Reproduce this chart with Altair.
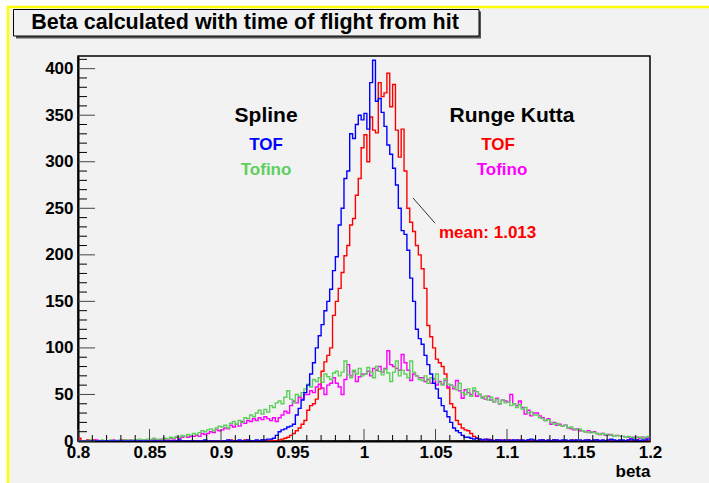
import altair as alt
import pandas as pd

# ---------------- data (histogram bins of width 0.002 from 0.8 to 1.2) ----------------
BIN_START = 0.8
BIN_WIDTH = 0.002

spline_tof = [  # blue
    0,0,0,0,0,0,0,0,0,0,
    0,0,0,0,0,0,0,0,0,0,
    0,0,0,0,0,0,0,0,0,0,
    0,0,0,0,0,1,0,0,0,0,
    0,0,0,0,1,0,0,0,0,0,
    0,0,1,0,0,0,1,0,0,1,
    0,0,1,0,1,1,2,2,3,6,
    10,12,13,15,16,18,28,35,44,52,
    60,72,84,100,113,125,140,150,163,183,
    198,232,250,282,290,330,325,340,350,345,
    352,335,385,409,365,368,353,338,318,308,
    293,275,250,226,222,205,175,150,120,110,
    104,92,82,72,62,56,46,38,32,26,
    20,14,11,9,6,4,4,3,2,3,
    2,1,2,1,1,0,1,1,0,1,
    1,0,1,1,0,1,0,1,2,1,
    0,1,1,0,1,0,1,1,0,1,
    1,0,1,0,1,1,0,1,1,0,
    1,1,0,1,0,1,2,1,0,1,
    1,0,1,2,1,1,0,1,1,2,
]

rk_tof = [  # red
    3,0,0,1,0,1,0,0,0,0,
    0,0,0,0,0,0,1,0,0,0,
    0,0,0,0,0,0,0,0,0,0,
    0,0,0,0,0,0,0,0,0,0,
    0,0,0,0,0,0,0,0,0,0,
    0,0,0,1,0,0,0,0,1,0,
    0,0,0,0,1,0,0,1,0,0,
    1,2,3,4,6,8,11,14,18,22,
    33,38,40,45,56,75,85,92,100,135,
    150,164,181,199,210,232,239,264,282,315,
    329,300,348,334,331,385,370,374,395,359,
    383,334,305,335,290,250,235,225,210,200,
    185,164,124,112,100,88,84,80,72,57,
    40,36,22,18,14,12,11,8,5,3,
    2,1,1,2,1,0,1,0,1,0,
    0,1,0,0,1,0,0,1,0,0,
    0,0,1,0,0,0,1,0,0,0,
    0,0,0,1,0,0,0,0,1,0,
    0,1,0,0,0,0,1,0,0,0,
    0,0,1,0,0,1,0,0,0,0,
]

spline_tofino = [  # green
    0,0,0,0,1,0,0,0,1,0,
    0,1,0,0,1,0,1,1,0,1,
    1,2,1,1,2,1,3,2,2,1,
    3,2,4,3,5,4,6,5,7,6,
    8,7,9,11,10,12,13,11,14,16,
    15,17,14,19,21,18,22,20,25,24,
    28,26,30,33,29,34,31,38,36,41,
    43,40,47,54,45,41,50,48,52,56,
    61,58,66,64,68,63,72,69,66,73,
    75,70,74,86,71,68,76,72,78,70,
    72,79,74,68,80,75,71,77,73,64,
    74,86,70,76,72,68,86,74,70,66,
    65,70,62,68,66,72,63,60,67,61,
    60,58,55,62,52,50,56,48,57,53,
    50,46,48,44,47,42,45,40,44,41,
    42,38,40,36,39,34,36,30,31,28,
    28,25,24,22,23,20,18,19,17,16,
    17,14,15,13,12,13,11,10,9,10,
    9,8,7,8,7,6,7,5,6,5,
    5,4,5,4,3,4,4,3,4,5,
]

rk_tofino = [  # magenta
    0,0,0,0,0,0,1,0,0,0,
    0,0,1,0,0,1,0,0,1,0,
    1,0,1,1,0,1,2,1,1,2,
    2,1,3,2,4,3,4,5,4,5,
    5,6,5,8,7,8,10,9,12,11,
    12,14,13,17,15,18,16,21,19,22,
    21,24,22,25,23,26,24,22,25,21,
    25,28,32,30,38,43,41,47,45,50,
    50,54,52,58,61,57,50,60,62,68,
    62,58,50,66,82,70,75,64,69,72,
    72,75,70,78,76,80,74,78,97,82,
    80,78,76,93,84,76,65,72,70,68,
    68,64,66,62,67,60,64,61,65,58,
    60,56,65,54,46,55,52,50,54,48,
    50,47,45,48,44,42,46,40,44,43,
    42,50,40,38,43,36,29,33,27,30,
    30,27,25,22,24,18,20,17,18,16,
    17,14,13,12,13,11,11,10,11,9,
    10,8,7,8,6,7,6,5,6,5,
    5,4,4,3,4,4,3,4,3,4,
]

x_tick_major = [0.8, 0.85, 0.9, 0.95, 1.0, 1.05, 1.1, 1.15, 1.2]
y_tick_major = [0, 50, 100, 150, 200, 250, 300, 350, 400]

# legend/annotation text (position in data coordinates)
legend_text = ["Spline", "TOF", "Tofino", "Runge Kutta", "TOF", "Tofino"]
legend_x = [0.9315, 0.9315, 0.9315, 1.1035, 1.0937, 1.0965]
legend_y = [349, 318, 291, 349, 318, 291]
legend_color = ["#000000", "#0000ff", "#5cd05c", "#000000", "#ff0000", "#ff00ff"]
legend_size = [21, 17, 17, 21, 17, 17]

mean_label = "mean: 1.013"
mean_pos = (1.0524, 223)
pointer_line = (1.0343, 261, 1.0497, 234)

# ---------------- geometry ----------------
W, H = 572, 385
PAD = {"left": 78, "top": 56, "right": 59, "bottom": 42}
Y_TOP = 413.6
FONT = "Liberation Sans"
BG = "#f2f2f2"


def hist_frame(values):
    edges = [round(BIN_START + i * BIN_WIDTH, 4) for i in range(len(values) + 1)]
    vals = list(values) + [values[-1]]
    return pd.DataFrame({"beta": edges, "count": vals})


x_scale = alt.Scale(domain=[0.8, 1.2], nice=False, zero=False)
y_scale = alt.Scale(domain=[0, Y_TOP], nice=False)

x_axis = alt.Axis(
    values=x_tick_major, format="~g", ticks=False, tickSize=0, grid=False,
    domainColor="black", domainWidth=2, labelFont=FONT, labelFontWeight="bold",
    labelFontSize=17, labelColor="black", labelPadding=3, labelFlush=False,
    labelOverlap=False, title="beta", titleFont=FONT, titleFontWeight="bold",
    titleFontSize=17, titleColor="black", titleAnchor="end", titleAlign="right",
    titleX=W, titleY=30, titleBaseline="middle",
)
y_axis = alt.Axis(
    values=y_tick_major, format="d", ticks=False, tickSize=0, grid=False,
    domainColor="black", domainWidth=2, labelFont=FONT, labelFontWeight="bold",
    labelFontSize=17, labelColor="black", labelPadding=5, labelOverlap=False,
    labelFlush=False, title=None,
)

X = alt.X("beta:Q", scale=x_scale, axis=x_axis)
Y = alt.Y("count:Q", scale=y_scale, axis=y_axis)


def hist_layer(values, color):
    return alt.Chart(hist_frame(values)).mark_line(
        interpolate="step-after", color=color, strokeWidth=1.4, clip=True
    ).encode(x=X, y=Y)


one = pd.DataFrame({"a": [0]})

# decoration: white margin, yellow border, title box
white_left = alt.Chart(one).mark_rect(color="white").encode(
    x=alt.value(-PAD["left"]), x2=alt.value(-71), y=alt.value(-PAD["top"]), y2=alt.value(H + PAD["bottom"]))
white_top = alt.Chart(one).mark_rect(color="white").encode(
    x=alt.value(-PAD["left"]), x2=alt.value(W + PAD["right"]), y=alt.value(-PAD["top"]), y2=alt.value(-49))
yellow_left = alt.Chart(one).mark_rule(color="#ffff00", strokeWidth=2.5).encode(
    x=alt.value(-70), y=alt.value(-49), y2=alt.value(H + PAD["bottom"]))
yellow_top = alt.Chart(one).mark_rule(color="#ffff00", strokeWidth=2.5).encode(
    y=alt.value(-49), x=alt.value(-71), x2=alt.value(W + PAD["right"]))

title_shadow = alt.Chart(one).mark_rect(color="#555555").encode(
    x=alt.value(-62), x2=alt.value(403), y=alt.value(-44.5), y2=alt.value(-17.5))
title_box = alt.Chart(one).mark_rect(fill=BG, stroke="black", strokeWidth=1).encode(
    x=alt.value(-64.5), x2=alt.value(401), y=alt.value(-46.5), y2=alt.value(-20))
title_text = alt.Chart(one).mark_text(
    text="Beta calculated with time of flight from hit", font=FONT, fontWeight="bold",
    fontSize=21.5, color="black", align="center", baseline="middle").encode(
    x=alt.value(167), y=alt.value(-33))

# inward ticks (ROOT style)
y_minor = [v for v in range(10, 420, 10) if v % 50 != 0]
x_minor = [round(0.8 + 0.01 * i, 2) for i in range(41) if i % 5 != 0]

yt_major = alt.Chart(pd.DataFrame({"count": y_tick_major})).mark_rule(color="#444444", strokeWidth=1).encode(
    y=alt.Y("count:Q", scale=y_scale, axis=y_axis), x=alt.value(0), x2=alt.value(17))
yt_minor = alt.Chart(pd.DataFrame({"count": y_minor})).mark_rule(color="black", strokeWidth=1).encode(
    y=alt.Y("count:Q", scale=y_scale, axis=y_axis), x=alt.value(0), x2=alt.value(9))
xt_major = alt.Chart(pd.DataFrame({"beta": x_tick_major})).mark_rule(color="#444444", strokeWidth=1).encode(
    x=alt.X("beta:Q", scale=x_scale, axis=x_axis), y=alt.value(H), y2=alt.value(H - 12))
xt_minor = alt.Chart(pd.DataFrame({"beta": x_minor})).mark_rule(color="black", strokeWidth=1).encode(
    x=alt.X("beta:Q", scale=x_scale, axis=x_axis), y=alt.value(H), y2=alt.value(H - 6))

legend_df = pd.DataFrame({"beta": legend_x, "count": legend_y, "label": legend_text,
                          "col": legend_color, "size": legend_size})
legend_layer = alt.Chart(legend_df).mark_text(
    font=FONT, fontWeight="bold", align="center", baseline="middle").encode(
    x=alt.X("beta:Q", scale=x_scale, axis=x_axis),
    y=alt.Y("count:Q", scale=y_scale, axis=y_axis),
    text="label:N",
    color=alt.Color("col:N", scale=None),
    size=alt.Size("size:Q", scale=None),
)

mean_df = pd.DataFrame({"beta": [mean_pos[0]], "count": [mean_pos[1]], "label": [mean_label]})
mean_layer = alt.Chart(mean_df).mark_text(
    font=FONT, fontWeight="bold", fontSize=17, color="#ff0000", align="left", baseline="middle").encode(
    x=alt.X("beta:Q", scale=x_scale, axis=x_axis),
    y=alt.Y("count:Q", scale=y_scale, axis=y_axis),
    text="label:N")

ptr_df = pd.DataFrame({"beta": [pointer_line[0]], "count": [pointer_line[1]],
                       "beta2": [pointer_line[2]], "count2": [pointer_line[3]]})
ptr_layer = alt.Chart(ptr_df).mark_rule(color="#333333", strokeWidth=1).encode(
    x=alt.X("beta:Q", scale=x_scale, axis=x_axis),
    y=alt.Y("count:Q", scale=y_scale, axis=y_axis),
    x2="beta2:Q", y2="count2:Q")

chart = alt.layer(
    white_left, white_top, yellow_left, yellow_top,
    title_shadow, title_box, title_text,
    hist_layer(rk_tof, "#ff0000"),
    hist_layer(rk_tofino, "#ff00ff"),
    hist_layer(spline_tofino, "#5cd05c"),
    hist_layer(spline_tof, "#0000ff"),
    yt_major, yt_minor, xt_major, xt_minor,
    legend_layer, mean_layer, ptr_layer,
).properties(
    width=W, height=H,
    autosize=alt.AutoSizeParams(type="none"),
    padding=PAD,
    background=BG,
).configure_view(stroke="black", strokeWidth=1.5)

chart.save("out.html", embed_options={"renderer": "svg", "actions": False})
